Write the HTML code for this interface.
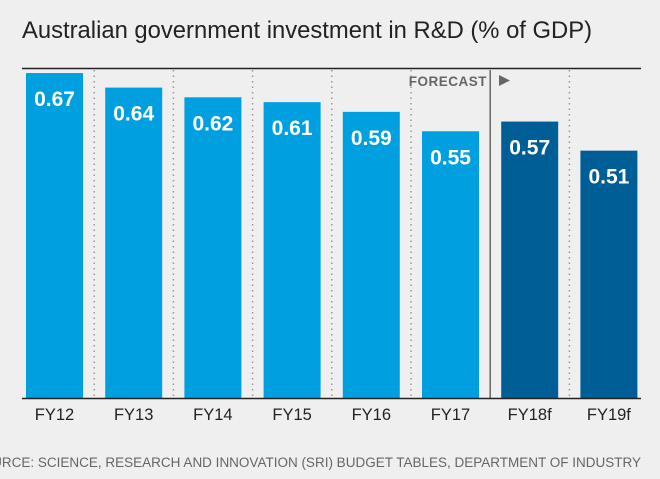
<!DOCTYPE html>
<html><head><meta charset="utf-8"><style>
html,body{margin:0;padding:0;background:#efefef;}
svg{display:block;font-family:"Liberation Sans",sans-serif;}
</style></head><body>
<svg width="660" height="479" viewBox="0 0 660 479">
<rect width="660" height="479" fill="#efefef"/>
<text x="22" y="38" font-size="23.8" fill="#222">Australian government investment in R&amp;D (% of GDP)</text>
<line x1="22" y1="68.5" x2="641" y2="68.5" stroke="#222" stroke-width="1.5"/>
<g id="grid"></g>
<g id="bars"></g>
<line x1="22" y1="398.5" x2="641" y2="398.5" stroke="#222" stroke-width="1.5"/>
<text x="487" y="86" font-size="13.5" font-weight="bold" fill="#666" text-anchor="end" letter-spacing="0.5">FORECAST</text>
<polygon points="499,75 510,80.5 499,86" fill="#666"/>
<text x="641" y="467" font-size="13.5" fill="#666" text-anchor="end">SOURCE: SCIENCE, RESEARCH AND INNOVATION (SRI) BUDGET TABLES, DEPARTMENT OF INDUSTRY</text>
</svg>
<script>
const categories = ["FY12","FY13","FY14","FY15","FY16","FY17","FY18f","FY19f"];
const values = [0.67,0.64,0.62,0.61,0.59,0.55,0.57,0.51];
const valueLabels = ["0.67","0.64","0.62","0.61","0.59","0.55","0.57","0.51"];
const forecast = [false,false,false,false,false,false,true,true];

const ns="http://www.w3.org/2000/svg";
const x0=15, step=79.2, bw=57, baseY=398, scale=485;
const xPos=i=>x0+step*i+11;
const yPos=v=>baseY-v*scale;
const bars=document.getElementById('bars'), grid=document.getElementById('grid');
categories.forEach((c,i)=>{
  const x=xPos(i), y=yPos(values[i]);
  if(i>0){
    const l=document.createElementNS(ns,'line');
    const gx=x-11;
    l.setAttribute('x1',gx);l.setAttribute('x2',gx);l.setAttribute('y1',70);l.setAttribute('y2',398);
    if(i===6){l.setAttribute('stroke','#666');l.setAttribute('stroke-width','1.5');}
    else{l.setAttribute('stroke','#999');l.setAttribute('stroke-width','1.5');l.setAttribute('stroke-dasharray','1.5 4');}
    
    
    grid.appendChild(l);
  }
  const r=document.createElementNS(ns,'rect');
  r.setAttribute('x',x);r.setAttribute('y',y);r.setAttribute('width',bw);r.setAttribute('height',baseY-y);
  r.setAttribute('fill',forecast[i]?'#005e96':'#00a0e0');
  
  
  bars.appendChild(r);
  const t=document.createElementNS(ns,'text');
  t.setAttribute('x',x+bw/2);t.setAttribute('y',y+33);t.setAttribute('text-anchor','middle');
  t.setAttribute('font-size','21');t.setAttribute('font-weight','bold');t.setAttribute('fill','#fff');
  t.textContent=valueLabels[i];
  
  
  bars.appendChild(t);
  const ct=document.createElementNS(ns,'text');
  ct.setAttribute('x',x+bw/2);ct.setAttribute('y',420);ct.setAttribute('text-anchor','middle');
  ct.setAttribute('font-size','16.5');ct.setAttribute('fill','#222');
  ct.textContent=c;
  
  
  bars.appendChild(ct);
});
</script>
</body></html>
